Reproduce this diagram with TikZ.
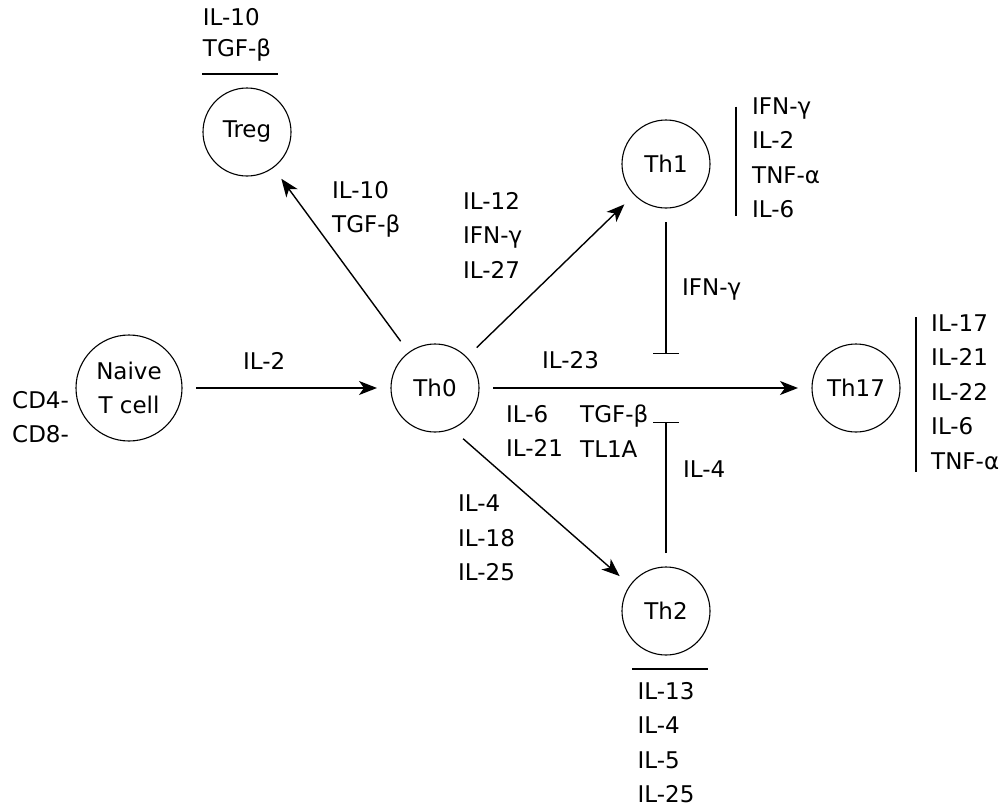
\documentclass[tikz,border=0pt]{standalone}
\usepackage{fontspec}
\setmainfont{DejaVu Sans}
\usepackage{tikz}
\usetikzlibrary{arrows.meta, positioning}

\begin{document}
\begin{tikzpicture}[
    x=1pt, y=-1pt,
    every node/.style={font=\fontsize{23pt}{34.5pt}\selectfont, inner sep=0pt},
    cell/.style={circle, draw, line width=1.1pt, minimum size=88pt, outer sep=14pt},
    cyto/.style={align=left, anchor=north west},
    arrow/.style={-{Stealth[length=18pt, width=14pt, inset=5pt]}, line width=1.4pt},
    inhib/.style={-{Bar[width=26pt]}, line width=1.4pt},
    rule/.style={line width=1.8pt}
]
    \useasboundingbox (0,0) rectangle (1008,811);

    % cells
    \node[cell, minimum size=106pt, align=center] (naive) at (129,388) {Naive\\T cell};
    \node[cell] (th0) at (435,388) {Th0};
    \node[cell] (treg) at (247,132) {Treg};
    \node[cell] (th1) at (666,164) {Th1};
    \node[cell] (th17) at (856,388) {Th17};
    \node[cell] (th2) at (666,611) {Th2};

    % what the cells give off
    \node[cyto, above=13pt of treg, xshift=-10pt, font=\fontsize{23pt}{31pt}\selectfont] (tregout) {IL-10\\TGF-β};
    \node[cyto, right=12pt of th1, yshift=6pt, inner xsep=16pt] (th1out) {IFN-γ\\IL-2\\TNF-α\\IL-6};
    \node[cyto, right=2pt of th17, yshift=-4pt, inner xsep=15pt] (th17out) {IL-17\\IL-21\\IL-22\\IL-6\\TNF-α};
    \node[cyto, below=13pt of th2] (th2out) {IL-13\\IL-4\\IL-5\\IL-25};
    \node[cyto] (cd) at (12,391) {CD4-\\CD8-};

    \draw[rule] ([xshift=-45pt]treg.north) -- ([xshift=31pt]treg.north);
    \draw[rule] ([xshift=-34pt]th2.south) -- ([xshift=42pt]th2.south);
    \draw[rule] ([yshift=-9pt]th1out.north west) -- ([yshift=3pt]th1out.south west);
    \draw[rule] ([yshift=-3pt]th17out.north west) -- ([yshift=-2pt]th17out.south west);

    % signals on the arrows
    \node[anchor=base west] (il2) at (243,369) {IL-2};
    \node[cyto] (toreg) at (332,181) {IL-10\\TGF-β};
    \node[cyto] (toth1) at (463,192) {IL-12\\IFN-γ\\IL-27};
    \node[anchor=base west] (il23) at (542,368) {IL-23};
    \node[cyto] (toth17a) at (506,405) {IL-6\\IL-21};
    \node[cyto] (toth17b) at (580,405) {TGF-β\\TL1A};
    \node[cyto] (toth2) at (458,495) {IL-4\\IL-18\\IL-25};
    \node[anchor=base west] (ifng) at (682,295) {IFN-γ};
    \node[anchor=base west] (il4) at (683,477) {IL-4};

    \coordinate (stop1) at (666,354);
    \coordinate (stop2) at (666,422);

    \draw[arrow] (naive) -- (th0);
    \draw[arrow] (th0) -- (treg);
    \draw[arrow] (th0) -- (th1);
    \draw[arrow] (th0) -- (th17);
    \draw[arrow] (th0.-61) -- (th2.143);
    \draw[inhib] (th1) -- (stop1);
    \draw[inhib] (th2) -- (stop2);
\end{tikzpicture}
\end{document}
